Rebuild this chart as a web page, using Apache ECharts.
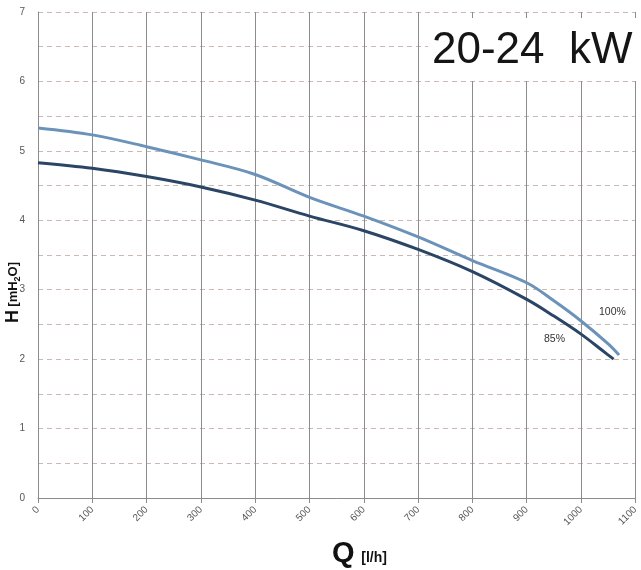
<!DOCTYPE html>
<html><head><meta charset="utf-8">
<script src="https://cdn.jsdelivr.net/npm/echarts@6/dist/echarts.min.js"></script>
<style>html,body{margin:0;padding:0;background:#fff}#c{width:641px;height:570px}</style>
</head><body><div id="c"></div>
<script>
const title = '20-24  kW';
const seriesNames = ['100%', '85%'];
const q100 = [0, 100, 200, 300, 400, 500, 600, 700, 800, 900, 950, 1000, 1050, 1070];
const h100 = [5.33, 5.23, 5.06, 4.87, 4.66, 4.33, 4.06, 3.76, 3.42, 3.10, 2.84, 2.55, 2.22, 2.06];
const q85 = [0, 100, 200, 300, 400, 500, 600, 700, 800, 900, 950, 1000, 1040, 1060];
const h85 = [4.83, 4.75, 4.63, 4.48, 4.29, 4.06, 3.85, 3.58, 3.26, 2.86, 2.62, 2.36, 2.12, 2.00];
const xTicks = [0, 100, 200, 300, 400, 500, 600, 700, 800, 900, 1000, 1100];
const yTicks = [0, 1, 2, 3, 4, 5, 6, 7];

const chart = echarts.init(document.getElementById('c'), null, {renderer: 'canvas'});
const font = 'Liberation Sans, Arial, sans-serif';
chart.setOption({
  animation: false,
  backgroundColor: '#fff',
  grid: {left: 38, right: 1, top: 12, bottom: 72},
  title: {
    text: title, left: 428, top: 18,
    backgroundColor: '#fff', padding: [11, 6, 8, 4],
    textStyle: {fontFamily: font, fontSize: 44, fontWeight: 'normal', color: '#151515'}
  },
  xAxis: {
    type: 'value', min: xTicks[0], max: xTicks[xTicks.length - 1], interval: 100,
    axisLine: {show: true, lineStyle: {color: '#8c8c8c', width: 1}},
    axisTick: {show: true, length: 5, lineStyle: {color: '#8c8c8c'}},
    axisLabel: {rotate: 45, fontSize: 10, color: '#555', fontFamily: font, margin: 10,
      formatter: v => String(v)},
    splitLine: {show: true, lineStyle: {color: '#8c8c8c', width: 1, type: 'solid'}}
  },
  yAxis: {
    type: 'value', min: yTicks[0], max: yTicks[yTicks.length - 1], interval: 0.5,
    axisLine: {show: true, lineStyle: {color: '#8c8c8c', width: 1}},
    axisTick: {show: false},
    axisLabel: {fontSize: 10, color: '#555', fontFamily: font, margin: 13,
      formatter: v => (Number.isInteger(v) && yTicks.includes(v)) ? String(v) : ''},
    splitLine: {show: true, lineStyle: {color: '#c9b9b2', width: 1, type: [5, 4]}}
  },
  series: [
    {name: seriesNames[0], type: 'line', smooth: 0.35, showSymbol: false, z: 3,
     lineStyle: {color: '#6b93b9', width: 3}, data: q100.map((q, i) => [q, h100[i]])},
    {name: seriesNames[1], type: 'line', smooth: 0.35, showSymbol: false, z: 4,
     lineStyle: {color: '#2b4566', width: 3}, data: q85.map((q, i) => [q, h85[i]])}
  ],
  graphic: [
    {type: 'text', left: 599, top: 307, z: 10,
     style: {text: seriesNames[0], fontSize: 10.5, fill: '#333', fontFamily: font}},
    {type: 'text', left: 544, top: 334, z: 10,
     style: {text: seriesNames[1], fontSize: 10.5, fill: '#333', fontFamily: font}},
    {type: 'text', x: 4, y: 323, rotation: Math.PI / 2, z: 10,
     style: {
       text: '{h|H} {u|[mH}{s|2}{u|O]}',
       rich: {
         h: {fontSize: 18, fontWeight: 'bold', fill: '#111', fontFamily: font},
         u: {fontSize: 13, fontWeight: 'bold', fill: '#111', fontFamily: font},
         s: {fontSize: 9, fontWeight: 'bold', fill: '#111', fontFamily: font, verticalAlign: 'bottom'}
       }
     }},
    {type: 'text', left: 332, top: 539, z: 10,
     style: {
       text: '{q|Q}  {u|[l/h]}',
       rich: {
         q: {fontSize: 29, fontWeight: 'bold', fill: '#111', fontFamily: font},
         u: {fontSize: 14, fontWeight: 'bold', fill: '#111', fontFamily: font, verticalAlign: 'bottom', padding: [0, 0, 3, 0]}
       }
     }}
  ]
});
</script></body></html>
